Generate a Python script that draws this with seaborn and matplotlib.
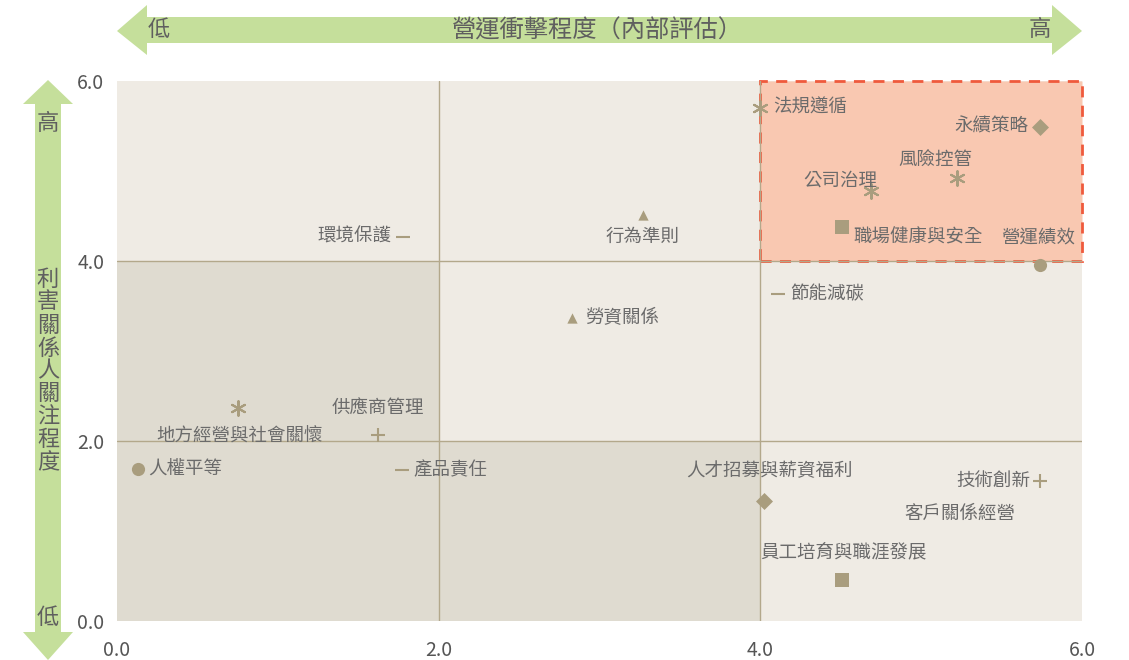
import numpy as np
import pandas as pd
import matplotlib.pyplot as plt
import seaborn as sns
from matplotlib.patches import Rectangle, Polygon

# data
topics = ['法規遵循', '永續策略', '風險控管', '公司治理', '職場健康與安全', '營運績效',
          '環境保護', '行為準則', '節能減碳', '勞資關係', '地方經營與社會關懷', '供應商管理',
          '人權平等', '產品責任', '人才招募與薪資福利', '技術創新', '客戶關係經營', '員工培育與職涯發展']
impact = [4.00, 5.74, 5.22, 4.69, 4.51, 5.74,
          1.78, 3.27, 4.11, 2.83, 0.75, 1.62,
          0.13, 1.77, 4.02, 5.74, 5.24, 4.51]
concern = [5.70, 5.49, 4.92, 4.78, 4.38, 3.96,
           4.27, 4.51, 3.63, 3.37, 2.37, 2.07,
           1.69, 1.68, 1.33, 1.56, 1.19, 0.46]
kind = ['asterisk', 'diamond', 'asterisk', 'asterisk', 'square', 'circle',
        'dash', 'triangle', 'dash', 'triangle', 'asterisk', 'plus',
        'circle', 'dash', 'diamond', 'plus', 'none', 'square']
ticks = [0, 2, 4, 6]
tick_labels = ['0.0', '2.0', '4.0', '6.0']

df = pd.DataFrame({'topic': topics, 'x': impact, 'y': concern, 'kind': kind})

# label offsets in pixels (dx, dy, ha)
offsets = {
    '法規遵循': (13, 0, 'left'), '永續策略': (-12, 0, 'right'), '風險控管': (-21, 18, 'center'),
    '公司治理': (-31, 10, 'center'), '職場健康與安全': (11, -11, 'left'), '營運績效': (-2, 27, 'center'),
    '環境保護': (-12, 0, 'right'), '行為準則': (0, -22, 'center'), '節能減碳': (12, 0, 'left'),
    '勞資關係': (13, 0, 'left'), '地方經營與社會關懷': (2, -29, 'center'), '供應商管理': (0, 26, 'center'),
    '人權平等': (10, 0, 'left'), '產品責任': (12, 0, 'left'), '人才招募與薪資福利': (6, 30, 'center'),
    '技術創新': (-10, 0, 'right'), '客戶關係經營': (0, 0, 'center'), '員工培育與職涯發展': (1, 27, 'center'),
}

sns.set_style('white')
plt.rcParams['font.family'] = ['Noto Sans CJK TC', 'DejaVu Sans']

W, H = 1129, 660
fig = plt.figure(figsize=(W / 100, H / 100), dpi=100)
ax = fig.add_axes([117 / W, 39 / H, 965 / W, 540 / H])
ax.set_facecolor('#efebe4')

dark = '#dfdbd0'
ax.add_patch(Rectangle((0, 0), 2, 4, facecolor=dark, edgecolor='none', zorder=0))
ax.add_patch(Rectangle((2, 0), 2, 2, facecolor=dark, edgecolor='none', zorder=0))
ax.add_patch(Rectangle((4, 4), 2, 2, facecolor='#f9c8b1', edgecolor='#ef5a3c',
                       linestyle=(0, (4, 3)), lw=2, zorder=1, clip_on=False))
for v in [2, 4]:
    ax.axvline(v, color='#b3a88b', lw=1, zorder=1.5)
    ax.axhline(v, color='#b3a88b', lw=1, zorder=1.5)

mcolor = '#a99d7e'
marker_map = {'circle': ('o', 90), 'square': ('s', 95), 'diamond': ('D', 75),
              'triangle': ('^', 55), 'asterisk': ((6, 2, 0), 110), 'plus': ('+', 90),
              'dash': ('_', 90)}
for k, (m, s) in marker_map.items():
    sub = df[df['kind'] == k]
    sns.scatterplot(data=sub, x='x', y='y', marker=m, s=s, color=mcolor,
                    linewidth=1.5 if k in ('asterisk', 'plus', 'dash') else 0,
                    ax=ax, zorder=3, legend=False)

for t, x, y in zip(topics, impact, concern):
    dx, dy, ha = offsets[t]
    ax.annotate(t, (x, y), xytext=(dx, dy), textcoords='offset pixels',
                ha=ha, va='center', fontsize=13.3, color='#6b6b6b', zorder=4)

ax.set_xlim(0, 6)
ax.set_ylim(0, 6)
ax.set_xticks(ticks)
ax.set_xticklabels(tick_labels)
ax.set_yticks(ticks)
ax.set_yticklabels(tick_labels)
ax.tick_params(axis='both', length=0, labelsize=14, colors='#555555')
ax.tick_params(axis='x', pad=14)
ax.tick_params(axis='y', pad=9)
ax.set_xlabel('')
ax.set_ylabel('')
sns.despine(ax=ax, left=True, bottom=True)

# arrows overlay in pixel coords
ov = fig.add_axes([0, 0, 1, 1], facecolor='none')
ov.set_xlim(0, W)
ov.set_ylim(H, 0)
ov.axis('off')
green = '#c5df9b'
hx = Polygon([(117, 31), (147, 5), (147, 17), (1052, 17), (1052, 5), (1082, 31),
              (1052, 55), (1052, 43), (147, 43), (147, 55)], closed=True,
             facecolor=green, edgecolor='none')
ov.add_patch(hx)
vy = Polygon([(48, 80), (73, 104), (61, 104), (61, 632), (73, 632), (48, 660),
              (23, 632), (35, 632), (35, 104), (23, 104)], closed=True,
             facecolor=green, edgecolor='none')
ov.add_patch(vy)
tc = '#5f5f5f'
ov.text(159, 30, '低', ha='center', va='center', fontsize=16, color=tc)
ov.text(597, 30, '營運衝擊程度（內部評估）', ha='center', va='center', fontsize=17.5, color=tc)
ov.text(1040, 30, '高', ha='center', va='center', fontsize=16, color=tc)
ov.text(48, 123, '高', ha='center', va='center', fontsize=16, color=tc)
ov.text(48, 617, '低', ha='center', va='center', fontsize=16, color=tc)
ov.text(48, 371, '\n'.join('利害關係人關注程度'), ha='center', va='center',
        fontsize=16, color=tc, linespacing=1.0)

fig.savefig('out.png', dpi=100)
